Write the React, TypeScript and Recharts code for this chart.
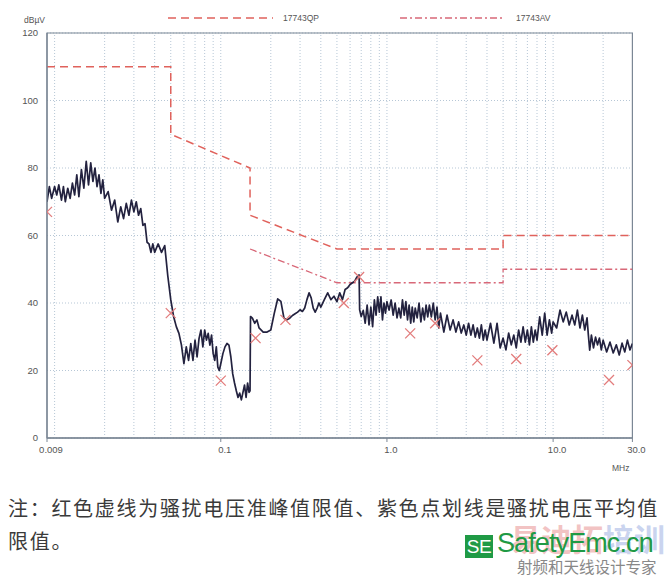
import React from "react";
import {
  ComposedChart,
  Line,
  Scatter,
  XAxis,
  YAxis,
  CartesianGrid,
  ReferenceLine,
  ReferenceArea,
} from "recharts";

const TRACE_F = [
  0.009, 0.0093, 0.0096, 0.01, 0.0103, 0.0106, 0.011, 0.0113, 0.0116, 0.012, 0.0124, 0.0128, 0.0132, 0.0136, 0.014,
  0.0145, 0.015, 0.0155, 0.016, 0.0165, 0.017, 0.0175, 0.018, 0.0185, 0.019, 0.0195, 0.02, 0.021, 0.022, 0.023,
  0.024, 0.025, 0.026, 0.027, 0.028, 0.029, 0.03, 0.031, 0.032, 0.033, 0.034, 0.035, 0.036, 0.037, 0.038, 0.039,
  0.04, 0.042, 0.044, 0.046, 0.048, 0.05,
  0.052, 0.054, 0.056, 0.058, 0.06, 0.062, 0.064, 0.066, 0.068, 0.07, 0.072, 0.074, 0.076, 0.078, 0.08, 0.082,
  0.084, 0.086, 0.088, 0.09, 0.092, 0.094, 0.096, 0.098, 0.1, 0.103, 0.106, 0.109, 0.112, 0.115, 0.118, 0.121,
  0.124, 0.127, 0.13, 0.133, 0.136, 0.139, 0.142, 0.145, 0.148, 0.15, 0.151,
  0.155, 0.16, 0.165, 0.17, 0.18, 0.19, 0.2, 0.21, 0.22, 0.23, 0.24, 0.25, 0.26, 0.27, 0.28, 0.29, 0.3, 0.31, 0.32,
  0.33, 0.34, 0.35, 0.36, 0.37, 0.38, 0.39, 0.4, 0.42, 0.44, 0.46, 0.48, 0.5, 0.52, 0.54, 0.56, 0.58, 0.6, 0.62,
  0.64, 0.66, 0.68, 0.685, 0.7,
  0.72, 0.74, 0.76, 0.78, 0.8, 0.82, 0.84, 0.86, 0.88, 0.9, 0.92, 0.94, 0.96, 0.98, 1.0, 1.03, 1.06, 1.09, 1.12,
  1.15, 1.18, 1.21, 1.24, 1.27, 1.3, 1.33, 1.36, 1.39, 1.42, 1.45, 1.48, 1.52, 1.56, 1.6, 1.64, 1.68, 1.72, 1.76,
  1.8, 1.85, 1.9, 1.95, 2.0, 2.05, 2.1, 2.2, 2.3, 2.4, 2.5, 2.6, 2.7, 2.8, 2.9, 3.0, 3.1, 3.2, 3.3, 3.4, 3.5, 3.6,
  3.7, 3.8, 3.9, 4.0, 4.2, 4.4, 4.6, 4.8, 5.0, 5.2, 5.4, 5.6, 5.8, 6.0, 6.2, 6.4, 6.6, 6.8, 7.0, 7.2, 7.4, 7.6,
  7.8, 8.0, 8.3, 8.6, 8.9, 9.2, 9.5, 9.8, 10,
  10.5, 11, 11.5, 12, 12.5, 13, 13.5, 14, 14.5, 15, 15.5, 16, 16.3, 16.6, 17, 17.5, 18, 18.5, 19, 19.5, 20, 21, 22,
  23, 24, 25, 26, 27, 28, 29, 30,
];
const TRACE_V = [
  70, 74.5, 71, 74.5, 72, 75, 70.5, 74.5, 70, 74, 71, 75.5, 72, 78, 71.5,
  79.5, 74, 82, 75, 81.5, 76, 80, 74.5, 78, 72.5, 76.5, 71, 73, 67.5, 70.5,
  64, 68.5, 65, 69.5, 66, 70.5, 67, 70, 66, 68, 63, 63.5, 58, 57.5, 55, 57.5,
  55, 57.5, 55, 57, 48, 41,
  36, 33, 31, 27.5, 22, 27, 23, 28, 23, 29, 24, 29.5, 32, 27, 32, 29,
  31, 27.5, 30.5, 25, 23, 27, 21, 20, 22, 25, 27, 28, 27.5, 24, 19, 16.3,
  14, 12, 13.3, 11.3, 13.5, 15.7, 12, 16.3, 13.5, 14, 36,
  35.5, 34, 35, 32.6, 31.4, 31.4, 32, 37, 41.2, 40.5, 35.5, 35, 35.5, 36.3, 36.8, 37.3, 38, 37.5, 38.5,
  41, 43, 41.5, 38.5, 37.3, 38.5, 40, 38.8, 41, 43, 41, 42, 40.4, 43, 41, 44, 44.5, 45.5, 46,
  46.5, 47.7, 48.3, 38, 36,
  37.8, 34, 39.4, 33.5, 38.8, 33, 40.9, 36.4, 41.8, 37.3, 41.8, 35, 40, 37, 40.4, 37.9, 40.9, 36.4, 40,
  35.6, 38.5, 35.6, 40.9, 36.4, 40.4, 35, 39.4, 34, 38.8, 34.4, 38.5, 35.6, 40, 34.4, 38.5, 35, 39.4, 35.9,
  39.4, 35.9, 40, 35, 38.8, 32.6, 37, 31.4, 36.4, 32, 35, 31.4, 34.4, 31.1, 33.5, 30.5, 34, 30.5, 33.5, 29.9, 32.6, 29.6,
  33.5, 29, 32, 29, 34, 28.1, 34, 26.7, 29.6, 26.1, 31.1, 27.6, 30.5, 26.7, 32, 28.4, 32.9, 28.4, 32, 27.6, 32.9, 28.4,
  32, 29, 35.9, 30.5, 37, 30.5, 35, 31.1, 34.4,
  32.6, 37.9, 34.4, 37.3, 33.5, 36.4, 33.5, 37.9, 32.6, 36.4, 32, 35.6, 30.5, 26, 30.5, 26.7, 29.9, 27.6, 29.6, 26.1, 29, 25.5, 28.4,
  25.2, 27.6, 24.6, 28.1, 25.5, 29, 26.1, 28,
];

// EN 55015 style limits
const QP_F = [0.009, 0.05, 0.05, 0.15, 0.15, 0.5, 5, 5, 30];
const QP_V = [110, 110, 90, 80, 66, 56, 56, 60, 60];
const AV_F = [0.15, 0.5, 5, 5, 30];
const AV_V = [56, 46, 46, 50, 50];

// final measurement markers
const CROSS_F = [0.009, 0.05, 0.1, 0.162, 0.245, 0.55, 0.68, 1.38, 1.95, 3.5, 6.0, 9.9, 21.7, 30];
const CROSS_V = [67, 37, 17, 29.6, 35, 40, 47.7, 31, 34, 23, 23.4, 26, 17.2, 21.6];

const X_TICKS = [0.009, 0.1, 1, 10, 30];
const X_LABELS = ["0.009", "0.1", "1.0", "10.0", "30.0"];
const Y_TICKS = [0, 20, 40, 60, 80, 100, 120];
const GRID_F = [
  0.01, 0.02, 0.03, 0.04, 0.05, 0.06, 0.07, 0.08, 0.09, 0.1, 0.2, 0.3, 0.4, 0.5, 0.6, 0.7, 0.8, 0.9, 1, 2, 3, 4, 5,
  6, 7, 8, 9, 10, 20,
];

const toPoints = (fs: number[], vs: number[]) => fs.map((f, i) => ({ f, v: vs[i] }));

const trace = toPoints(TRACE_F, TRACE_V);
const qp = toPoints(QP_F, QP_V);
const av = toPoints(AV_F, AV_V);
const crosses = toPoints(CROSS_F, CROSS_V);

const QP_COLOR = "#e0625c";
const AV_COLOR = "#d86878";
const GRID = "#b7c7d6";
const FRAME = "#7b8795";
const SANS = "Liberation Sans, Arial, sans-serif";
const CJK = "'Noto Sans CJK SC', sans-serif";
const TICK_FONT = { fontSize: 9.5, fill: "#555", fontFamily: SANS };

const Cross = (props: any) => {
  const { cx, cy } = props;
  const s = 5;
  return (
    <path
      d={`M${cx - s},${cy - s}L${cx + s},${cy + s}M${cx + s},${cy - s}L${cx - s},${cy + s}`}
      stroke="#e27c7c"
      strokeWidth={1.3}
      fill="none"
    />
  );
};

const XTick = (props: any) => {
  const { x, y, payload } = props;
  const idx = X_TICKS.indexOf(payload.value);
  return (
    <text x={x + 4} y={y + 9} textAnchor="middle" {...TICK_FONT}>
      {X_LABELS[idx] ?? payload.value}
    </text>
  );
};

const captionStyle: React.CSSProperties = {
  position: "absolute",
  left: 8,
  fontFamily: CJK,
  fontSize: 20,
  letterSpacing: 1.7,
  lineHeight: "22px",
  color: "#3a3a3a",
  whiteSpace: "nowrap",
};

export default function App() {
  return (
    <div style={{ position: "fixed", left: 0, top: 0, width: 671, height: 576, background: "#fff", overflow: "hidden" }}>
      <div style={{ position: "absolute", left: 0, top: 0 }}>
        <ComposedChart width={671} height={480} margin={{ top: 33, right: 38.6, left: 0, bottom: 12 }}>
          <CartesianGrid vertical={false} stroke={GRID} strokeDasharray="1 2" />
          <XAxis
            dataKey="f"
            type="number"
            scale="log"
            domain={[0.009, 30]}
            allowDataOverflow
            ticks={X_TICKS}
            interval={0}
            height={30}
            tickSize={4}
            tick={<XTick />}
            tickLine={{ stroke: FRAME }}
            axisLine={{ stroke: FRAME, strokeWidth: 1.3 }}
          />
          <YAxis
            type="number"
            domain={[0, 120]}
            ticks={Y_TICKS}
            width={47}
            tickSize={0}
            tickMargin={9}
            tickLine={false}
            tick={TICK_FONT}
            axisLine={{ stroke: FRAME, strokeWidth: 1.3 }}
          />
          {GRID_F.map((f) => (
            <ReferenceLine key={f} x={f} stroke={GRID} strokeDasharray="1 2" />
          ))}
          <ReferenceArea x1={0.009} x2={30} y1={0} y2={120} fill="none" stroke={FRAME} strokeWidth={1.2} ifOverflow="visible" />
          <Line
            data={qp}
            dataKey="v"
            stroke={QP_COLOR}
            strokeWidth={1.5}
            strokeDasharray="8 5"
            dot={false}
            isAnimationActive={false}
          />
          <Line
            data={av}
            dataKey="v"
            stroke={AV_COLOR}
            strokeWidth={1.3}
            strokeDasharray="7 3 2 3"
            dot={false}
            isAnimationActive={false}
          />
          <Line
            data={trace}
            dataKey="v"
            stroke="#23223f"
            strokeWidth={1.7}
            strokeLinejoin="round"
            dot={false}
            isAnimationActive={false}
          />
          <Scatter data={crosses} dataKey="v" shape={<Cross />} isAnimationActive={false} />
        </ComposedChart>
      </div>

      <svg width={671} height={480} style={{ position: "absolute", left: 0, top: 0, pointerEvents: "none" }}>
        <text x={45} y={23} textAnchor="end" fontSize={8.5} fill="#555" fontFamily={SANS}>
          dBµV
        </text>
        <line x1={168} y1={18} x2={273} y2={18} stroke={QP_COLOR} strokeWidth={1.5} strokeDasharray="8 5" />
        <text x={283} y={21} fontSize={8.5} fill="#555" fontFamily={SANS}>
          17743QP
        </text>
        <line x1={400} y1={18} x2={503} y2={18} stroke={AV_COLOR} strokeWidth={1.3} strokeDasharray="7 3 2 3" />
        <text x={516} y={21} fontSize={8.5} fill="#555" fontFamily={SANS}>
          17743AV
        </text>
        <text x={612} y={471} fontSize={8.5} fill="#555" fontFamily={SANS}>
          MHz
        </text>
      </svg>

      <div style={{ ...captionStyle, top: 497 }}>注：红色虚线为骚扰电压准峰值限值、紫色点划线是骚扰电压平均值</div>
      <div style={{ ...captionStyle, top: 530 }}>限值。</div>

      <div
        style={{
          position: "absolute",
          left: 510,
          top: 524,
          fontFamily: CJK,
          fontSize: 31,
          lineHeight: "28px",
          fontWeight: 700,
          whiteSpace: "nowrap",
          opacity: 0.4,
        }}
      >
        <span style={{ color: "#e06a6a" }}>易迪拓</span>
        <span style={{ color: "#7d96d8" }}>培训</span>
      </div>
      <div
        style={{
          position: "absolute",
          left: 465,
          top: 535,
          width: 28,
          height: 23,
          background: "#1f9a45",
          color: "#fff",
          fontFamily: SANS,
          fontSize: 19,
          lineHeight: "23px",
          textAlign: "center",
          letterSpacing: -0.5,
        }}
      >
        SE
      </div>
      <div
        style={{
          position: "absolute",
          left: 497,
          top: 530,
          color: "#1f9a45",
          fontFamily: SANS,
          fontSize: 27,
          lineHeight: "27px",
          letterSpacing: -0.9,
          whiteSpace: "nowrap",
        }}
      >
        SafetyEmc.cn
      </div>
      <div
        style={{
          position: "absolute",
          left: 517,
          top: 559,
          color: "#888",
          fontFamily: CJK,
          fontSize: 15.5,
          whiteSpace: "nowrap",
          lineHeight: "15px",
        }}
      >
        射频和天线设计专家
      </div>
    </div>
  );
}
